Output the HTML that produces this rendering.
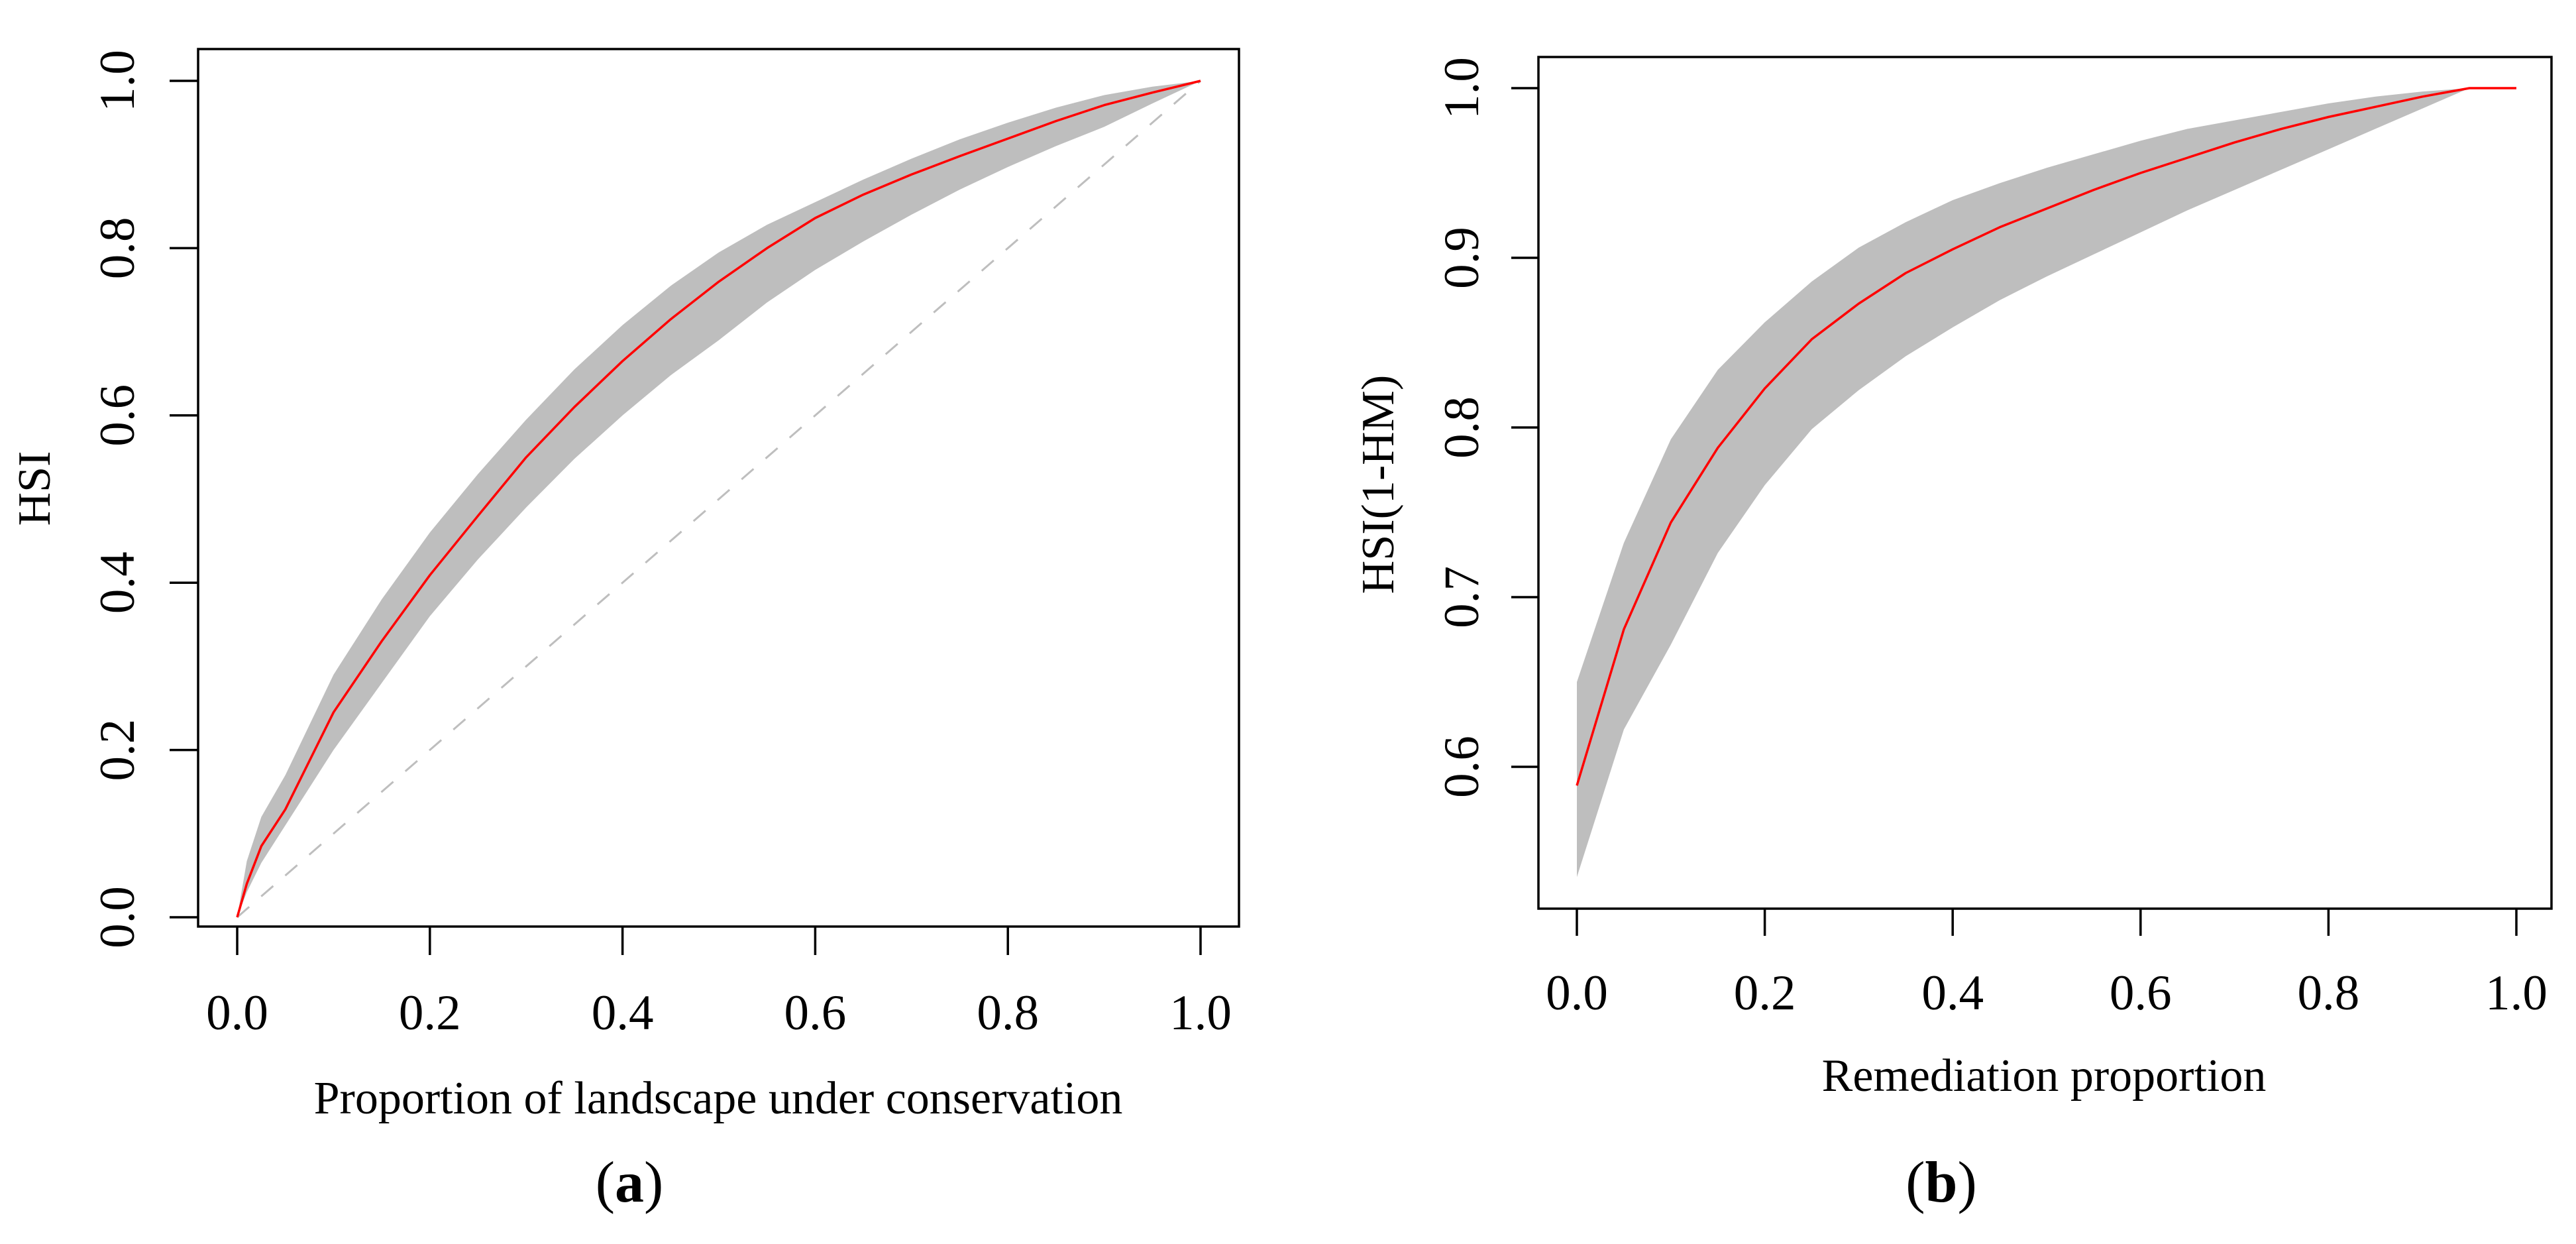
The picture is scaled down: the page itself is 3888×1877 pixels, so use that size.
<!DOCTYPE html>
<html><head><meta charset="utf-8">
<style>
html,body{margin:0;padding:0;background:#fff;}
svg{display:block;}
text{font-family:"Liberation Serif",serif;fill:#000;}
</style></head>
<body>
<svg id="chart" width="3888" height="1877" viewBox="0 0 3888 1877" xmlns="http://www.w3.org/2000/svg"></svg>
<script>
// Panel (a) data
const aX = [0,0.01,0.025,0.05,0.1,0.15,0.2,0.25,0.3,0.35,0.4,0.45,0.5,0.55,0.6,0.65,0.7,0.75,0.8,0.85,0.9,0.95,1.0];
const aMean = [0,0.04,0.085,0.129,0.245,0.33,0.409,0.48,0.55,0.61,0.665,0.715,0.76,0.80,0.836,0.864,0.888,0.91,0.931,0.952,0.971,0.986,1.0];
const aUpper = [0,0.067,0.12,0.17,0.29,0.38,0.46,0.53,0.595,0.655,0.708,0.755,0.795,0.828,0.855,0.882,0.907,0.93,0.95,0.968,0.983,0.993,1.0];
const aLower = [0,0.03,0.065,0.11,0.20,0.28,0.36,0.428,0.49,0.548,0.60,0.648,0.69,0.735,0.774,0.808,0.84,0.87,0.897,0.922,0.945,0.973,1.0];
const aTicks = [0,0.2,0.4,0.6,0.8,1.0];
const aTickLabels = ["0.0","0.2","0.4","0.6","0.8","1.0"];
// Panel (b) data
const bX = [0,0.05,0.1,0.15,0.2,0.25,0.3,0.35,0.4,0.45,0.5,0.55,0.6,0.65,0.7,0.75,0.8,0.85,0.9,0.95,1.0];
const bMean = [0.589,0.681,0.744,0.788,0.823,0.852,0.873,0.891,0.905,0.918,0.929,0.94,0.95,0.959,0.968,0.976,0.983,0.989,0.995,1.0,1.0];
const bBandX = [0,0.05,0.1,0.15,0.2,0.25,0.3,0.35,0.4,0.45,0.5,0.55,0.6,0.65,0.7,0.75,0.8,0.85,0.9,0.95];
const bUpper = [0.65,0.732,0.793,0.834,0.862,0.886,0.906,0.921,0.934,0.944,0.953,0.961,0.969,0.976,0.981,0.986,0.991,0.995,0.998,1.0];
const bLower = [0.535,0.622,0.672,0.726,0.766,0.799,0.822,0.842,0.859,0.875,0.889,0.902,0.915,0.928,0.94,0.952,0.964,0.976,0.988,1.0];
const bXTicks = [0,0.2,0.4,0.6,0.8,1.0];
const bXTickLabels = ["0.0","0.2","0.4","0.6","0.8","1.0"];
const bYTicks = [0.6,0.7,0.8,0.9,1.0];
const bYTickLabels = ["0.6","0.7","0.8","0.9","1.0"];

const svg = document.getElementById('chart');
const NS = 'http://www.w3.org/2000/svg';
function mk(tag, attrs, parent){
  const e = document.createElementNS(NS, tag);
  for (const k in attrs) e.setAttribute(k, attrs[k]);
  (parent||svg).appendChild(e);
  return e;
}
function lin(d0,d1,r0,r1){ return v => r0 + (v-d0)/(d1-d0)*(r1-r0); }

function panel(cfg){
  const g = mk('g', {});
  
  
  const sx = cfg.sx, sy = cfg.sy;
  let d = '';
  cfg.bandX.forEach((x,i)=>{ d += (i?'L':'M') + sx(x).toFixed(1) + ',' + sy(cfg.upper[i]).toFixed(1); });
  for (let i = cfg.bandX.length-1; i >= 0; i--) d += 'L' + sx(cfg.bandX[i]).toFixed(1) + ',' + sy(cfg.lower[i]).toFixed(1);
  const band = mk('path', {d: d + 'Z', fill: '#bebebe', stroke: 'none'}, g);
  
  
  if (cfg.diag) {
    const dl = mk('line', {x1: sx(0), y1: sy(0), x2: sx(1), y2: sy(1), stroke: '#bebebe', 'stroke-width': 3, 'stroke-dasharray': '24,24'}, g);
    
    
  }
  const pts = cfg.meanX.map((x,i)=> sx(x).toFixed(1) + ',' + sy(cfg.mean[i]).toFixed(1)).join(' ');
  const ml = mk('polyline', {points: pts, fill: 'none', stroke: '#ff0000', 'stroke-width': 3.5, 'stroke-linejoin': 'round'}, g);
  
  
  const b = cfg.box;
  const box = mk('rect', {x: b[0], y: b[1], width: b[2]-b[0], height: b[3]-b[1], fill: 'none', stroke: '#000', 'stroke-width': 3.5}, g);
  
  
  const xa = mk('g', {}, g);
  
  
  cfg.xTicks.forEach((t,i)=>{
    const tk = mk('line', {x1: sx(t), x2: sx(t), y1: b[3], y2: b[3]+cfg.tickLen, stroke: '#000', 'stroke-width': 3.5}, xa);
    
    
    const tl = mk('text', {x: sx(t), y: cfg.xLabY, 'text-anchor': 'middle', 'font-size': 75}, xa);
    tl.textContent = cfg.xTickLabels[i];
    
    
  });
  const ya = mk('g', {}, g);
  
  
  cfg.yTicks.forEach((t,i)=>{
    const tk = mk('line', {x1: b[0], x2: b[0]-cfg.tickLen, y1: sy(t), y2: sy(t), stroke: '#000', 'stroke-width': 3.5}, ya);
    
    
    const tl = mk('text', {x: 0, y: 0, 'text-anchor': 'middle', 'font-size': 75, transform: 'translate(' + (cfg.yLabX + 25) + ',' + sy(t) + ') rotate(-90)'}, ya);
    tl.textContent = cfg.yTickLabels[i];
    
    
  });
  const xt = mk('text', {x: cfg.xTitle[0], y: cfg.xTitle[1] + 23, 'text-anchor': 'middle', 'font-size': 70}, g);
  xt.textContent = cfg.xTitleText;
  
  
  const yt = mk('text', {x: 0, y: 0, 'text-anchor': 'middle', 'font-size': 70, transform: 'translate(' + (cfg.yTitle[0] + 23) + ',' + cfg.yTitle[1] + ') rotate(-90)'}, g);
  yt.textContent = cfg.yTitleText;
  
  
  const pl = mk('text', {x: cfg.label[0], y: cfg.label[1] + 28, 'text-anchor': 'middle', 'font-size': 88}, g);
  pl.innerHTML = '(<tspan font-weight="bold">' + cfg.labelText + '</tspan>)';
  
  
}

panel({
  name: 'panel-a',
  sx: lin(0,1,358,1812), sy: lin(0,1,1384,122),
  bandX: aX, upper: aUpper, lower: aLower, meanX: aX, mean: aMean, diag: true,
  box: [299,74,1870,1398], tickLen: 43,
  xTicks: aTicks, xTickLabels: aTickLabels, xLabY: 1553,
  yTicks: aTicks, yTickLabels: aTickLabels, yLabX: 177,
  xTitle: [1084,1657], xTitleText: 'Proportion of landscape under conservation',
  yTitle: [52,737], yTitleText: 'HSI',
  label: [950,1785], labelText: 'a'
});
panel({
  name: 'panel-b',
  sx: lin(0,1,2380,3798), sy: lin(0.6,1.0,1157,133),
  bandX: bBandX, upper: bUpper, lower: bLower, meanX: bX, mean: bMean, diag: false,
  box: [2322,86,3851,1371], tickLen: 41,
  xTicks: bXTicks, xTickLabels: bXTickLabels, xLabY: 1523,
  yTicks: bYTicks, yTickLabels: bYTickLabels, yLabX: 2206,
  xTitle: [3085,1623], xTitleText: 'Remediation proportion',
  yTitle: [2080,731], yTitleText: 'HSI(1-HM)',
  label: [2930,1785], labelText: 'b'
});
</script>
</body></html>
